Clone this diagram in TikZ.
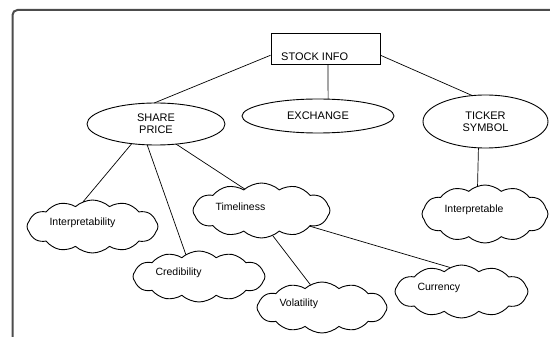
\documentclass[tikz,border=0pt]{standalone}
\usepackage{fontspec}
\setmainfont{Liberation Sans}
\usetikzlibrary{shapes.geometric,shapes.symbols}

\begin{document}
\begin{tikzpicture}[x=1pt,y=-1pt,
  capsfont/.style={font=\fontsize{11}{12}\selectfont},
  attr/.style={draw,ellipse,line width=0.9pt,inner sep=0pt,outer sep=0pt,capsfont,align=center},
  puff/.style={draw,cloud,cloud puffs=12,cloud puff arc=85,cloud ignores aspect,line width=0.9pt,inner sep=0pt,outer sep=0pt},
  lbl/.style={anchor=west,xshift=19pt,yshift=4pt,font=\fontsize{10.5}{12}\selectfont},
  link/.style={line width=0.7pt}]
\useasboundingbox (0,0) rectangle (550,339);
\draw[line width=2pt,black!70,rounded corners=5pt] (12.5,337) -- (12.5,10) -- (552,10);

\node[draw,line width=0.9pt,minimum width=109pt,minimum height=31pt,inner sep=0pt] (info) at (325.5,48.5) {};
\node[capsfont,anchor=base west,inner sep=0pt] (infotext) at (281,61) {STOCK INFO};

\node[attr,minimum width=138pt,minimum height=42pt] (price) at (156,124) {SHARE\\PRICE};
\node[attr,minimum width=152pt,minimum height=34pt] (exch) at (318,116) {EXCHANGE};
\node[attr,minimum width=125pt,minimum height=53pt] (ticker) at (485.5,121.5) {TICKER\\SYMBOL};

\node[puff,minimum width=131pt,minimum height=53pt,label={[lbl]west:Interpretability}] (interp) at (92.5,226.5) {};
\node[puff,minimum width=132pt,minimum height=51pt,label={[lbl]west:Credibility}] (cred) at (199,276.5) {};
\node[puff,minimum width=137pt,minimum height=55pt,label={[lbl]west:Timeliness}] (time) at (261.5,210.5) {};
\node[puff,minimum width=130pt,minimum height=51pt,label={[lbl]west:Volatility}] (vol) at (322,307.5) {};
\node[puff,minimum width=133pt,minimum height=53pt,label={[lbl]west:Currency}] (curr) at (461.5,291.5) {};
\node[puff,minimum width=126pt,minimum height=58pt,label={[lbl]west:Interpretable}] (able) at (485,214) {};

\draw[link] (info.187) -- (price.95);
\draw[link] (info.279) -- (exch.59);
\draw[link] (info.353) -- (ticker.117);
\draw[link] (price.219) -- (interp.111);
\draw[link] (price.247) -- (cred.121);
\draw[link] (price.315) -- (time.128);
\draw[link] (time.294) -- (vol.117);
\draw[link] (time.342) -- (curr.115);
\draw[link] (ticker.255) -- (able.105);
\end{tikzpicture}
\end{document}
